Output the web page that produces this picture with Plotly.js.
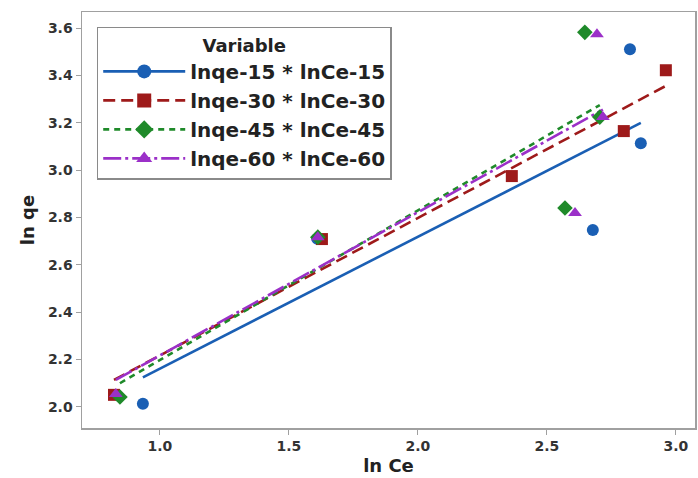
<!DOCTYPE html>
<html><head><meta charset="utf-8">
<script src="https://cdn.plot.ly/plotly-3.0.1.min.js"></script>
<style>html,body{margin:0;padding:0;background:#fff}#chart{width:698px;height:478px}</style>
</head><body><div id="chart"></div>
<script>
// Series names
const seriesNames = ['lnqe-15 * lnCe-15', 'lnqe-30 * lnCe-30', 'lnqe-45 * lnCe-45', 'lnqe-60 * lnCe-60'];
// Data points (ln Ce, ln qe)
const x15 = [0.934, 1.610, 2.678, 2.822, 2.864];
const y15 = [2.013, 2.710, 2.747, 3.511, 3.114];
const x30 = [0.822, 1.628, 2.364, 2.798, 2.961];
const y30 = [2.051, 2.709, 2.975, 3.165, 3.422];
const x45 = [0.845, 1.612, 2.570, 2.647, 2.705];
const y45 = [2.042, 2.717, 2.840, 3.582, 3.224];
const x60 = [0.829, 1.612, 2.609, 2.694, 2.717];
const y60 = [2.055, 2.717, 2.819, 3.574, 3.224];
// Fitted line end points
const fitX15 = [0.934, 2.864], fitY15 = [2.125, 3.200];
const fitX30 = [0.822, 2.961], fitY30 = [2.114, 3.356];
const fitX45 = [0.845, 2.705], fitY45 = [2.100, 3.275];
const fitX60 = [0.829, 2.717], fitY60 = [2.114, 3.256];

const colors = ['#1a5fb4', '#9e1a1a', '#1f8a2a', '#9b30c8'];
const symbols = ['circle', 'square', 'diamond', 'triangle-up'];
const dashes = ['solid', '12px,6px', '6px,5px', '18px,4px,3px,4px'];
const xs = [x15, x30, x45, x60], ys = [y15, y30, y45, y60];
const fxs = [fitX15, fitX30, fitX45, fitX60], fys = [fitY15, fitY30, fitY45, fitY60];

const FONT = 'DejaVu Sans';
const traces = [];
for (let i = 0; i < 4; i++) {
  traces.push({x: fxs[i], y: fys[i], mode: 'lines', showlegend: false, hoverinfo: 'skip',
    line: {color: colors[i], width: 2.6, dash: dashes[i]}});
}
for (let i = 0; i < 4; i++) {
  traces.push({x: xs[i], y: ys[i], mode: 'markers', showlegend: false,
    marker: {color: colors[i], symbol: symbols[i], size: 12}});
}
for (let i = 0; i < 4; i++) {
  traces.push({x: [null], y: [null], mode: 'lines+markers', name: seriesNames[i],
    line: {color: colors[i], width: 2.8, dash: dashes[i]},
    marker: {color: colors[i], symbol: symbols[i], size: 14}});
}

const axisCommon = {showgrid: false, zeroline: false, showline: true, mirror: true,
  linecolor: '#a0a0a0', linewidth: 1.5, ticks: 'outside', ticklen: 5, tickcolor: '#a0a0a0',
  tickfont: {family: FONT, size: 14, color: '#333', weight: 'bold'}};

const layout = {
  width: 698, height: 478,
  margin: {l: 82, r: 3, t: 12, b: 50},
  paper_bgcolor: '#fff', plot_bgcolor: '#fff',
  font: {family: FONT, color: '#222'},
  xaxis: Object.assign({}, axisCommon, {range: [0.698, 3.074], tickvals: [1.0, 1.5, 2.0, 2.5, 3.0], ticktext: ['1.0','1.5','2.0','2.5','3.0'],
    title: {text: 'ln Ce', font: {family: FONT, size: 18, color: '#222', weight: 'bold'}, standoff: 6}}),
  yaxis: Object.assign({}, axisCommon, {range: [1.911, 3.668], tickvals: [2.0,2.2,2.4,2.6,2.8,3.0,3.2,3.4,3.6], ticktext: ['2.0','2.2','2.4','2.6','2.8','3.0','3.2','3.4','3.6'],
    title: {text: 'ln qe', font: {family: FONT, size: 18, color: '#222', weight: 'bold'}, standoff: 8}}),
  legend: {x: 0.024, y: 0.964, xanchor: 'left', yanchor: 'top', bgcolor: '#fff',
    bordercolor: '#8a8a8a', borderwidth: 1.5, itemwidth: 82, tracegroupgap: 0,
    font: {family: FONT, size: 20, color: '#222', weight: 'bold'},
    title: {text: 'Variable', side: 'top center', font: {family: FONT, size: 18, color: '#222', weight: 'bold'}}}
};

Plotly.newPlot('chart', traces, layout, {displayModeBar: false, staticPlot: true});
</script>
</body></html>
